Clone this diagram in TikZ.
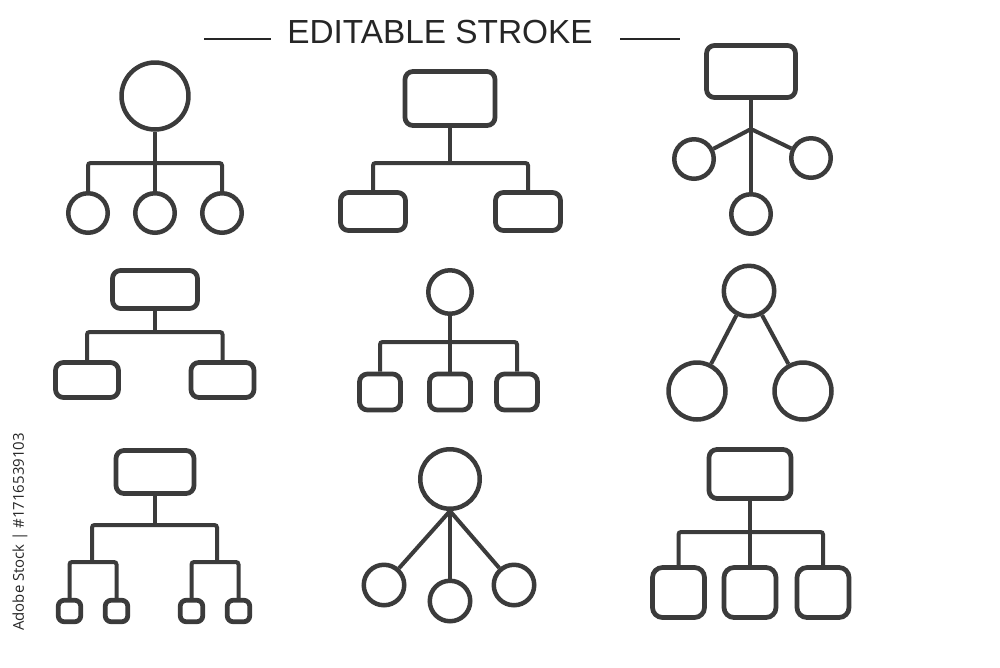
\documentclass[tikz,border=0pt]{standalone}
\usepackage{fontspec}
\setmainfont{Liberation Sans}
\newfontfamily\idfont{Open Sans}
\definecolor{ink}{HTML}{3B3B3B}
\definecolor{ink2}{HTML}{262626}

\begin{document}
\begin{tikzpicture}[
  x=0.02cm, y=-0.02cm,
  box/.style={draw=ink, line width=0.95mm, rounded corners=1.6mm, inner sep=0pt},
  leaf/.style={box, rounded corners=1.2mm, minimum width=4.5mm, minimum height=4.3mm},
  dot/.style={circle, draw=ink, line width=0.9mm, inner sep=0pt},
  link/.style={draw=ink, line width=0.8mm, rounded corners=0.5mm},
  rule/.style={draw=ink2, line width=0.4mm}
]
\fill[white] (0,0) rectangle (1000,667);
\useasboundingbox (0,0) rectangle (1000,667);
% ---------------- header
\node[font=\fontsize{19}{19}\selectfont, text=ink2] (title) at (440,32) {EDITABLE STROKE};
\coordinate (rulela) at (204,39); \coordinate (rulelb) at (271,39);
\coordinate (rulera) at (620,39); \coordinate (rulerb) at (680,39);
\draw[rule] (rulela) -- (rulelb);
\draw[rule] (rulera) -- (rulerb);
\node[rotate=90, font=\idfont\fontsize{8.5}{8.5}\selectfont, text=ink2] (stock) at (20,532) {Adobe Stock | \#1716539103};
% ---------------- row 1
\node[dot, minimum size=13.4mm] (a0) at (155,96) {};
\node[dot, minimum size=7.9mm] (a1) at (88,213) {};
\node[dot, minimum size=7.9mm] (a2) at (155,213) {};
\node[dot, minimum size=7.9mm] (a3) at (222,213) {};
\coordinate (ajoin) at (155,163);
\draw[link] (a0) -- (a2);
\draw[link] (a1) |- (ajoin) -| (a3);

\node[box, minimum width=18mm, minimum height=10.8mm] (b0) at (450,98.5) {};
\node[box, minimum width=13mm, minimum height=7.6mm] (b1) at (373,211.5) {};
\node[box, minimum width=13mm, minimum height=7.6mm] (b2) at (528,211.5) {};
\coordinate (bjoin) at (450,163);
\draw[link] (b0) -- (bjoin);
\draw[link] (b1) |- (bjoin) -| (b2);

\node[box, minimum width=17.8mm, minimum height=10.4mm] (c0) at (751,71.5) {};
\node[dot, minimum size=7.9mm] (c1) at (694,159) {};
\node[dot, minimum size=7.9mm] (c2) at (811,158) {};
\node[dot, minimum size=7.9mm] (c3) at (751,214) {};
\coordinate (cjoin) at (751,129);
\draw[link] (c0) -- (c3);
\draw[link] (c1) -- (cjoin) -- (c2);
% ---------------- row 2
\node[box, minimum width=17mm, minimum height=7.6mm] (d0) at (155,289.5) {};
\node[box, minimum width=12.6mm, minimum height=7mm] (d1) at (87,380) {};
\node[box, minimum width=12.6mm, minimum height=7mm] (d2) at (222.5,380) {};
\coordinate (djoin) at (155,332);
\draw[link] (d0) -- (djoin);
\draw[link] (d1) |- (djoin) -| (d2);

\node[dot, minimum size=8.7mm] (e0) at (450,292) {};
\node[box, minimum width=8.2mm, minimum height=7.2mm] (e1) at (380,392) {};
\node[box, minimum width=8.2mm, minimum height=7.2mm] (e2) at (450,392) {};
\node[box, minimum width=8.2mm, minimum height=7.2mm] (e3) at (517,392) {};
\coordinate (ejoin) at (450,342);
\draw[link] (e0) -- (e2);
\draw[link] (e1) |- (ejoin) -| (e3);

\node[dot, minimum size=10.1mm] (f0) at (749,291) {};
\node[dot, minimum size=11.4mm] (f1) at (697,391) {};
\node[dot, minimum size=11.4mm] (f2) at (803,391) {};
\draw[link] (f0) -- (f1);
\draw[link] (f0) -- (f2);
% ---------------- row 3
\node[box, minimum width=15.6mm, minimum height=8.6mm] (g0) at (155,472) {};
\node[leaf] (g1) at (69.5,611) {};
\node[leaf] (g2) at (116.5,611) {};
\node[leaf] (g3) at (191.5,611) {};
\node[leaf] (g4) at (238.5,611) {};
\coordinate (gjoin) at (155,525);
\coordinate (gleft) at (92,562);
\coordinate (gright) at (217,562);
\draw[link] (g0) -- (gjoin);
\draw[link] (gleft) |- (gjoin) -| (gright);
\draw[link] (g1) |- (gleft) -| (g2);
\draw[link] (g3) |- (gright) -| (g4);

\node[dot, minimum size=11.9mm] (h0) at (450,479) {};
\node[dot, minimum size=8.1mm] (h1) at (384,585) {};
\node[dot, minimum size=8.1mm] (h2) at (450,601) {};
\node[dot, minimum size=8.1mm] (h3) at (514,585) {};
\draw[link] (h0.south) -- (h1);
\draw[link] (h0) -- (h2);
\draw[link] (h0.south) -- (h3);

\node[box, minimum width=16.4mm, minimum height=9.8mm] (k0) at (750,474) {};
\node[box, rounded corners=2mm, minimum width=10.4mm, minimum height=10mm] (k1) at (678.5,592.5) {};
\node[box, rounded corners=2mm, minimum width=10.4mm, minimum height=10mm] (k2) at (750,592.5) {};
\node[box, rounded corners=2mm, minimum width=10.4mm, minimum height=10mm] (k3) at (823,592.5) {};
\coordinate (kjoin) at (750,532);
\draw[link] (k0) -- (k2);
\draw[link] (k1) |- (kjoin) -| (k3);
\end{tikzpicture}
\end{document}
